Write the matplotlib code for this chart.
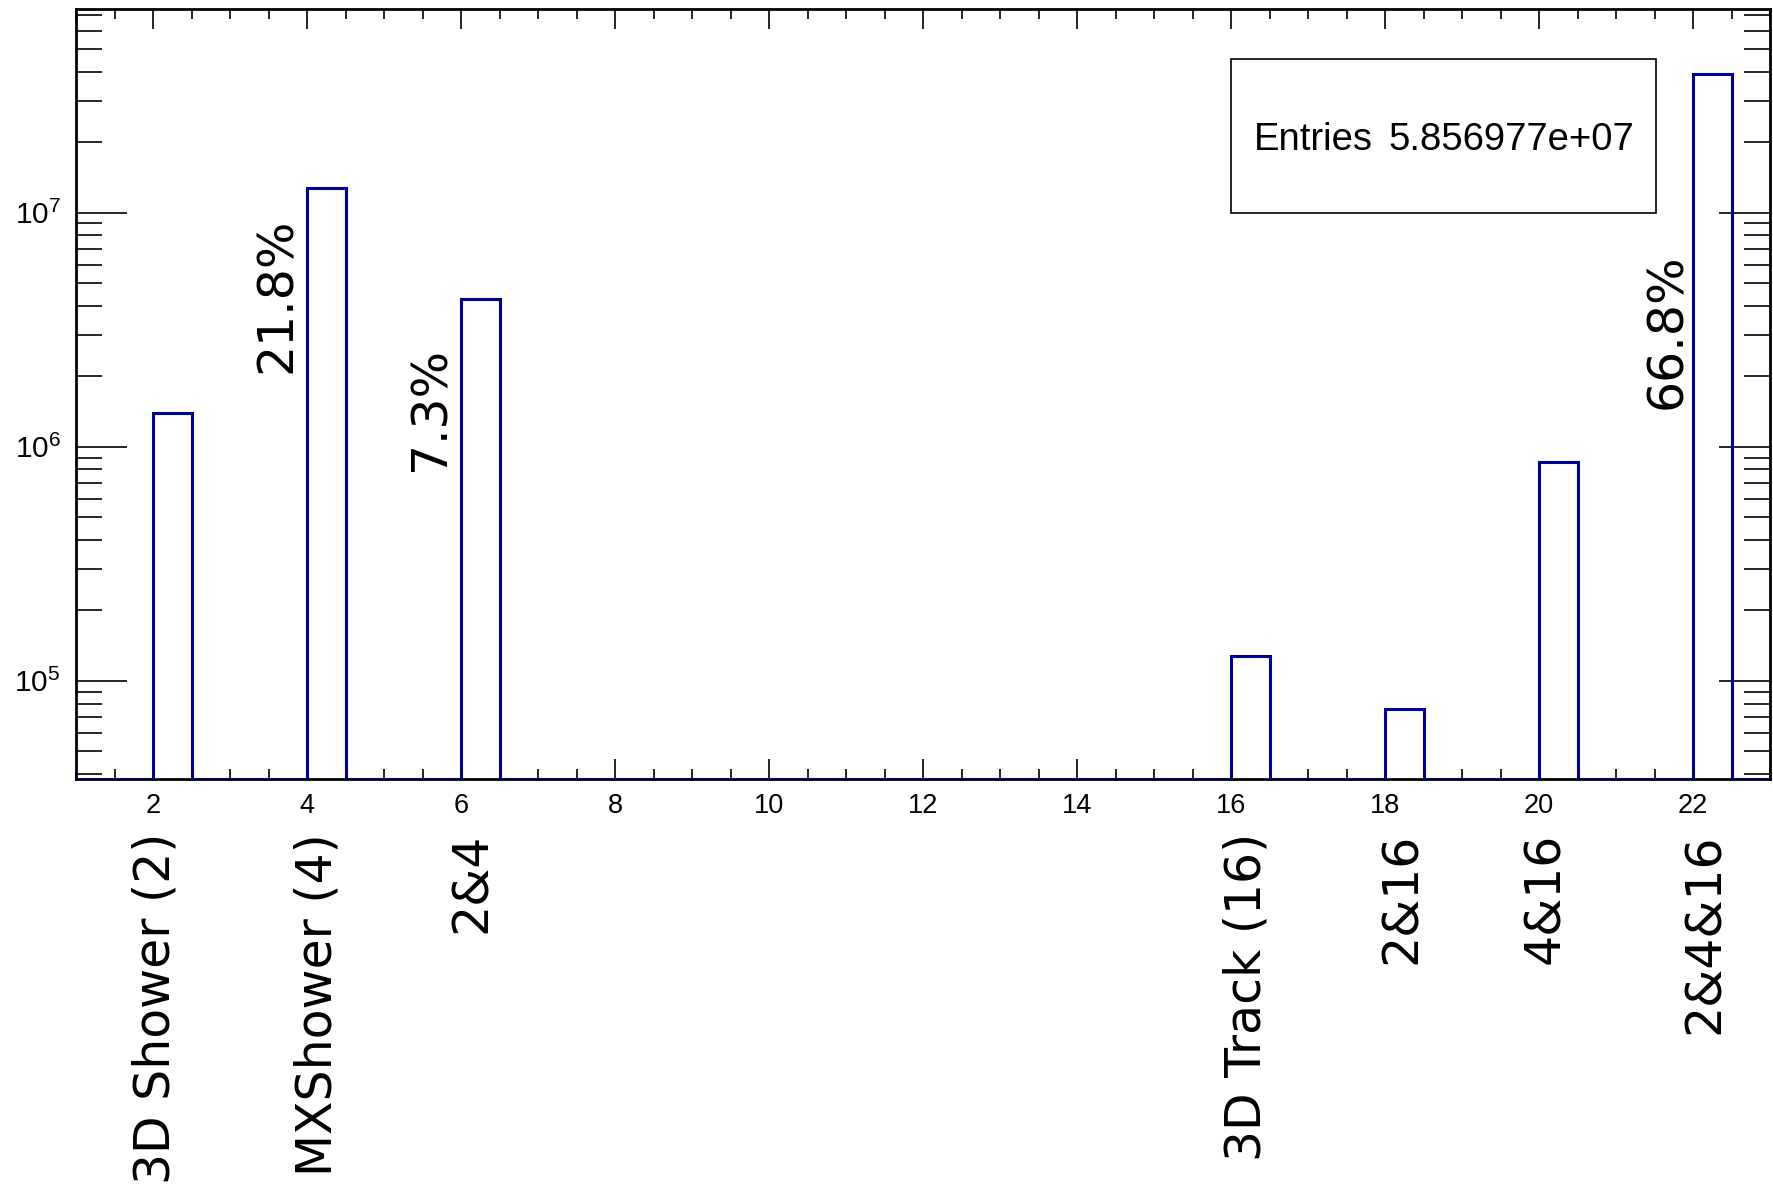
import numpy as np
import matplotlib
matplotlib.use("Agg")
import matplotlib.pyplot as plt
from matplotlib.ticker import MultipleLocator, LogLocator, FuncFormatter, NullFormatter
from matplotlib.patches import Rectangle

# Event counts per detector-combination bin (bin lower edge -> content)
bin_positions = [2, 4, 6, 16, 18, 20, 22]
bin_counts = [1.40e6, 1.2768e7, 4.276e6, 1.28e5, 7.62e4, 8.60e5, 3.912e7]

# Category names written under the axis
category_labels = ["3D Shower (2)", "MXShower (4)", "2&4", "3D Track (16)",
                   "2&16", "4&16", "2&4&16"]

# Fractions of all entries written beside the biggest bins
percent_labels = ["21.8%", "7.3%", "66.8%"]

entries_value = "5.856977e+07"

# Histogram binning and vertical range
hist_low, hist_high, bin_width = 1.0, 23.0, 0.5
y_min, y_max = 3.81e4, 7.38e7

# Placement of the annotation texts (x in data units, y in axes fraction)
category_x = [2.03, 4.13, 6.14, 16.20, 18.22, 20.08, 22.16]
category_y = -0.0702
percent_x = [3.61, 5.60, 21.66]
percent_y = [0.527, 0.400, 0.481]

plt.rcParams["mathtext.fontset"] = "custom"
plt.rcParams["mathtext.rm"] = "Liberation Sans"
plt.rcParams["mathtext.it"] = "Liberation Sans:italic"
plt.rcParams["mathtext.bf"] = "Liberation Sans:bold"

fig = plt.figure(figsize=(17.73, 11.86), dpi=100)
ax = fig.add_axes([0.04287, 0.34317, 0.95544, 0.64882])

edges = np.arange(hist_low, hist_high + bin_width / 2, bin_width)
counts = np.zeros(len(edges) - 1)
idx = np.round((np.array(bin_positions) - hist_low) / bin_width).astype(int)
counts[idx] = bin_counts
# empty bins are drawn along the lower edge of the log axis
drawn = np.where(counts > 0, counts, y_min)

ax.set_yscale("log")
ax.stairs(drawn, edges, baseline=None, color="#000099", lw=2.2, zorder=3)

ax.set_xlim(hist_low, hist_high)
ax.set_ylim(y_min, y_max)

# axis frame and ticks
for sp in ax.spines.values():
    sp.set_linewidth(2.0)
    sp.set_color("black")

ax.xaxis.set_major_locator(MultipleLocator(2))
ax.xaxis.set_minor_locator(MultipleLocator(0.5))
ax.yaxis.set_major_locator(LogLocator(base=10, numticks=20))
ax.yaxis.set_minor_locator(LogLocator(base=10, subs=np.arange(2, 10), numticks=20))
ax.yaxis.set_minor_formatter(NullFormatter())
ax.yaxis.set_major_formatter(
    FuncFormatter(lambda v, p: r"$\mathrm{10^{%d}}$" % int(round(np.log10(v)))))

ax.tick_params(axis="x", which="both", direction="in", top=True, bottom=True,
               width=1.2, color="black")
ax.tick_params(axis="x", which="major", length=14.4, pad=10,
               labelsize=19.5)
ax.tick_params(axis="x", which="minor", length=7.2)
ax.tick_params(axis="y", which="both", direction="in", left=True, right=True,
               width=1.2, color="black")
ax.tick_params(axis="y", which="major", length=36.5, pad=11, labelsize=21.5)
ax.tick_params(axis="y", which="minor", length=18.5)
for lab in ax.get_xticklabels() + ax.get_yticklabels():
    lab.set_fontfamily("Liberation Sans")

# category names below the axis
xt = ax.get_xaxis_transform()
for x, name in zip(category_x, category_labels):
    ax.text(x, category_y, name, transform=xt, rotation=90, ha="center",
            va="top", fontsize=35.2, family="DejaVu Sans", clip_on=False)

# percentages beside the bins
for x, y, txt in zip(percent_x, percent_y, percent_labels):
    ax.text(x, y, txt, transform=xt, rotation=90, ha="center", va="bottom",
            fontsize=35.2, family="DejaVu Sans")

# statistics box
box = Rectangle((0.6818, 0.736), 0.2509, 0.2003, transform=ax.transAxes,
                fill=True, facecolor="white", edgecolor="black", lw=1.2,
                zorder=4)
ax.add_patch(box)
ax.text(0.6954, 0.818, "Entries", transform=ax.transAxes, ha="left",
        va="baseline", fontsize=27.5, family="Liberation Sans", zorder=5)
ax.text(0.9197, 0.818, entries_value, transform=ax.transAxes, ha="right",
        va="baseline", fontsize=27.5, family="Liberation Sans", zorder=5)

fig.savefig("out.png", dpi=100)
